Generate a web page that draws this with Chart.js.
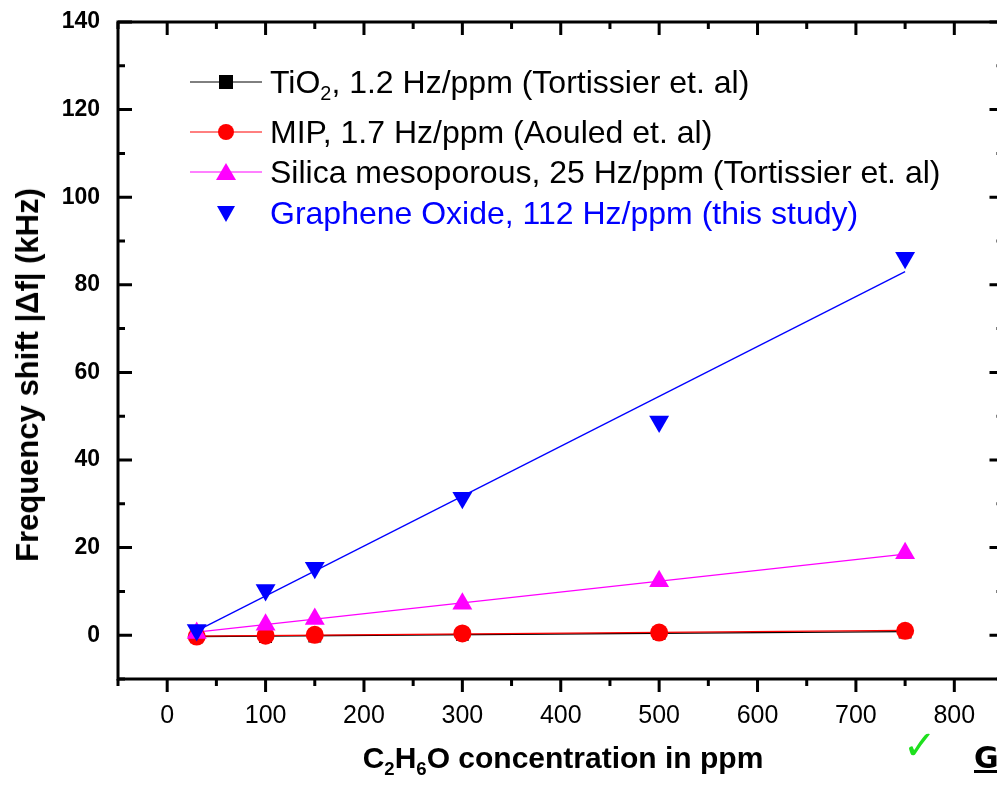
<!DOCTYPE html>
<html>
<head>
<meta charset="utf-8">
<script src="https://cdn.jsdelivr.net/npm/chart.js@4"></script>
<style>
  body { margin: 0; overflow: hidden; background: #fff; font-family: "Liberation Sans", Arial, sans-serif; }
  #wrap { position: relative; width: 1015px; height: 785px; }
  #chart { position: absolute; left: 0; top: 0; }
  .legend { position: absolute; left: 190px; top: 0; font-size: 32px; color: #000; }
  .row { position: absolute; left: 0; white-space: nowrap; height: 36px; }
  .row svg { position: absolute; left: 0; top: 3px; }
  .row span { position: absolute; left: 80px; top: 0; line-height: 36px; }
  sub { font-size: 62%; vertical-align: -0.35em; line-height: 0; }
  #xtitle { position: absolute; left: 563px; top: 741px; transform: translateX(-50%); font-weight: bold; font-size: 30px; white-space: nowrap; }
  #ytitle { position: absolute; left: 28px; top: 375px; transform: translate(-50%, -50%) rotate(-90deg); font-weight: bold; font-size: 31px; white-space: nowrap; }
  #check { position: absolute; left: 903px; top: 722px; color: #1ee01e; font-size: 40px; }
  #go { position: absolute; left: 974px; top: 740px; font-weight: bold; font-size: 30px; text-decoration: underline; white-space: nowrap; font-family: "DejaVu Sans", sans-serif; }
</style>
</head>
<body>
<div id="wrap">
  <canvas id="chart" width="1015" height="785"></canvas>
  <div class="legend">
    <div class="row" style="top:64px">
      <svg width="75" height="30"><line x1="0" y1="15" x2="72" y2="15" stroke="#000" stroke-width="1"/><rect x="29" y="8" width="14" height="14" fill="#000"/></svg>
      <span>TiO<sub>2</sub>, 1.2 Hz/ppm (Tortissier et. al)</span>
    </div>
    <div class="row" style="top:114px">
      <svg width="75" height="30"><line x1="0" y1="15" x2="72" y2="15" stroke="#f00" stroke-width="1"/><circle cx="36" cy="15" r="8" fill="#f00"/></svg>
      <span>MIP, 1.7 Hz/ppm (Aouled et. al)</span>
    </div>
    <div class="row" style="top:154px">
      <svg width="75" height="30"><line x1="0" y1="15" x2="72" y2="15" stroke="#f0f" stroke-width="1"/><polygon points="36,6 46,23 26,23" fill="#f0f"/></svg>
      <span>Silica mesoporous, 25 Hz/ppm (Tortissier et. al)</span>
    </div>
    <div class="row" style="top:195px">
      <svg width="75" height="30"><polygon points="27,8 45,8 36,24" fill="#00f"/></svg>
      <span style="color:#00f">Graphene Oxide, 112 Hz/ppm (this study)</span>
    </div>
  </div>
  <div id="ytitle">Frequency shift |&Delta;f| (kHz)</div>
  <div id="xtitle">C<sub>2</sub>H<sub>6</sub>O concentration in ppm</div>
  <div id="check">&#10003;</div>
  <div id="go">Graphene</div>
</div>
<script>
// concentrations (ppm)
const concentrations = [30, 100, 150, 300, 500, 750];
// frequency shift |df| in kHz
const tio2 = [-0.4, -0.3, -0.2, 0.2, 0.4, 0.7];
const mip = [-0.3, -0.1, 0.1, 0.4, 0.6, 1.0];
const silica = [0.5, 2.4, 3.7, 7.2, 12.3, 18.7];
const grapheneOxide = [1.2, 10.3, 15.4, 31.4, 48.8, 86.2];
// linear fits (start / end)
const fitX = [30, 750];
const tio2Fit = [-0.3, 0.8];
const mipFit = [-0.2, 1.1];
const silicaFit = [0.7, 18.5];
const grapheneFit = [1.0, 83.0];

const xTicks = [0, 100, 200, 300, 400, 500, 600, 700, 800];
const yTicks = [0, 20, 40, 60, 80, 100, 120, 140];

function pts(xs, ys) {
    return xs.map((x, i) => ({ x: x, y: ys[i] }));
}

function fitLine(ys, color, order) {
    return {
        data: pts(fitX, ys),
        showLine: true,
        borderColor: color,
        borderWidth: 1.3,
        pointRadius: 0,
        order: order
    };
}

function markers(ys, color, style, radius, rotation, order) {
    return {
        data: pts(concentrations, ys),
        showLine: false,
        pointStyle: style,
        pointRadius: radius,
        pointRotation: rotation,
        backgroundColor: color,
        borderColor: color,
        borderWidth: 0,
        order: order
    };
}

// box around plot + Origin-style ticks
const frame = {
    id: 'frame',
    afterDraw(chart) {
        const ctx = chart.ctx;
        const a = chart.chartArea;
        const xs = chart.scales.x, ys = chart.scales.y;
        ctx.save();
        ctx.strokeStyle = '#000';
        ctx.lineWidth = 3;
        ctx.strokeRect(a.left, a.top, a.right - a.left, a.bottom - a.top);
        ctx.beginPath();
        for (let v = -50; v <= 850; v += 50) {
            const px = xs.getPixelForValue(v);
            const len = v % 100 === 0 ? 13 : 7;
            ctx.moveTo(px, a.bottom); ctx.lineTo(px, a.bottom + len);
            ctx.moveTo(px, a.top); ctx.lineTo(px, a.top + len);
        }
        for (let v = -10; v <= 140; v += 10) {
            const py = ys.getPixelForValue(v);
            const len = v % 20 === 0 ? 14 : 7;
            ctx.moveTo(a.left, py); ctx.lineTo(a.left + len, py);
            ctx.moveTo(a.right, py); ctx.lineTo(a.right - len, py);
        }
        ctx.stroke();
        ctx.restore();
    }
};

new Chart(document.getElementById('chart'), {
    type: 'scatter',
    data: {
        datasets: [
            fitLine(tio2Fit, '#000', 8),
            fitLine(mipFit, '#f00', 7),
            fitLine(silicaFit, '#f0f', 6),
            fitLine(grapheneFit, '#00f', 5),
            markers(tio2, '#000', 'rect', 9, 0, 4),
            markers(mip, '#f00', 'circle', 9, 0, 3),
            markers(silica, '#f0f', 'triangle', 11.5, 0, 2),
            markers(grapheneOxide, '#00f', 'triangle', 11.5, 180, 1)
        ]
    },
    options: {
        responsive: false,
        animation: false,
        layout: { padding: { top: 22, right: 8 } },
        plugins: { legend: { display: false }, tooltip: { enabled: false } },
        scales: {
            x: {
                type: 'linear',
                min: -50,
                max: 850,
                afterBuildTicks: s => { s.ticks = xTicks.map(v => ({ value: v })); },
                afterFit: s => { s.height = 106; s.paddingLeft = 0; s.paddingRight = 0; },
                grid: { display: false, drawTicks: false },
                border: { display: false },
                ticks: { color: '#000', padding: 22, font: { family: 'Liberation Sans', size: 25 } }
            },
            y: {
                type: 'linear',
                min: -10,
                max: 140,
                afterBuildTicks: s => { s.ticks = yTicks.map(v => ({ value: v })); },
                afterFit: s => { s.width = 118; s.paddingTop = 0; s.paddingBottom = 0; },
                grid: { display: false, drawTicks: false },
                border: { display: false },
                ticks: { color: '#000', padding: 18, font: { family: 'Liberation Sans', size: 23, weight: 'bold' } }
            }
        }
    },
    plugins: [frame]
});
</script>
</body>
</html>
